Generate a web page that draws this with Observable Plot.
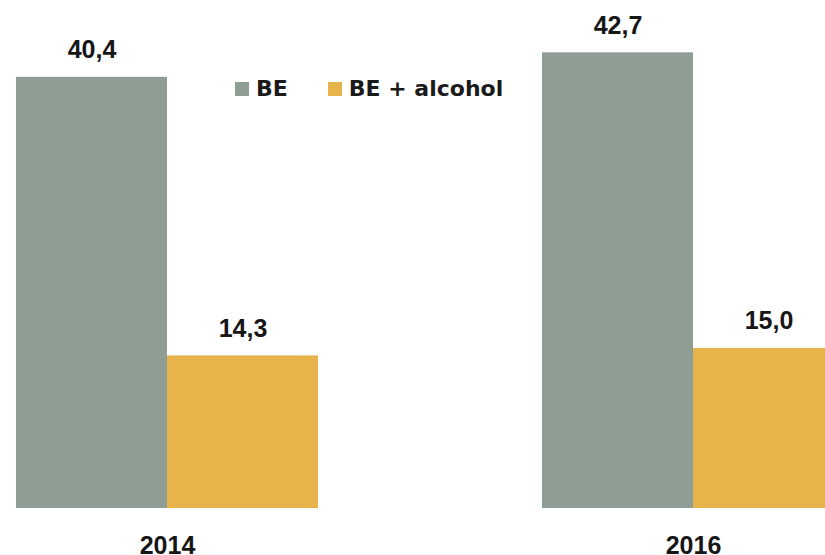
<!DOCTYPE html>
<html>
<head>
<meta charset="utf-8">
<script src="https://cdn.jsdelivr.net/npm/d3@7"></script>
<script src="https://cdn.jsdelivr.net/npm/@observablehq/plot@0.6"></script>
<style>
  html, body { margin: 0; padding: 0; background: #fff; overflow: hidden; width: 825px; height: 555px; }
  #wrap { position: relative; width: 825px; height: 555px; overflow: hidden; }
  #wrap svg { max-width: none !important; width: 845px; height: 555px; display: block; }
  #legend { position: absolute; left: 235px; top: 76px; display: flex; align-items: center;
    font-family: "DejaVu Sans", sans-serif; font-weight: bold; font-size: 22px; color: #1a1a1a; }
  .sw { display: inline-block; width: 14px; height: 14px; margin-right: 7px; }
  .item { display: flex; align-items: center; margin-right: 40px; }
</style>
</head>
<body>
<div id="wrap"><div id="legend"></div></div>
<script>
const years = ["2014", "2016"];
const series = ["BE", "BE + alcohol"];
const beValues = [40.4, 42.7];
const beAlcoholValues = [14.3, 15.0];
const colors = ["#8F9E95", "#E7B34B"];

const data = years.flatMap((year, i) => [
  {year, series: series[0], value: beValues[i]},
  {year, series: series[1], value: beAlcoholValues[i]}
]);
const fmt = v => v.toFixed(1).replace(".", ",");

const chart = Plot.plot({
  width: 845,
  height: 555,
  marginLeft: 15,
  marginRight: 1,
  marginTop: 0,
  marginBottom: 47,
  style: {fontFamily: "'Liberation Sans', Arial, sans-serif", background: "transparent", maxWidth: "none"},
  fx: {domain: years, paddingInner: 0.426, paddingOuter: 0, label: null},
  x: {domain: series, padding: 0, axis: null},
  y: {domain: [0, 47.6], axis: null},
  color: {domain: series, range: colors},
  marks: [
    Plot.barY(data, {fx: "year", x: "series", y: "value", fill: "series"}),
    Plot.text(data, {fx: "year", x: "series", y: "value", text: d => fmt(d.value),
      dy: -27, fontSize: 25, fontWeight: "bold", fill: "#161616"}),
    Plot.axisFx({anchor: "bottom", tickSize: 0, tickPadding: 28, fontSize: 25,
      fontWeight: "bold", label: null, color: "#161616"})
  ]
});
document.getElementById("wrap").prepend(chart);

const legend = document.getElementById("legend");
series.forEach((s, i) => {
  const item = document.createElement("div");
  item.className = "item";
  const sw = document.createElement("span");
  sw.className = "sw";
  sw.style.background = colors[i];
  item.appendChild(sw);
  item.appendChild(document.createTextNode(s));
  legend.appendChild(item);
});
</script>
</body>
</html>
